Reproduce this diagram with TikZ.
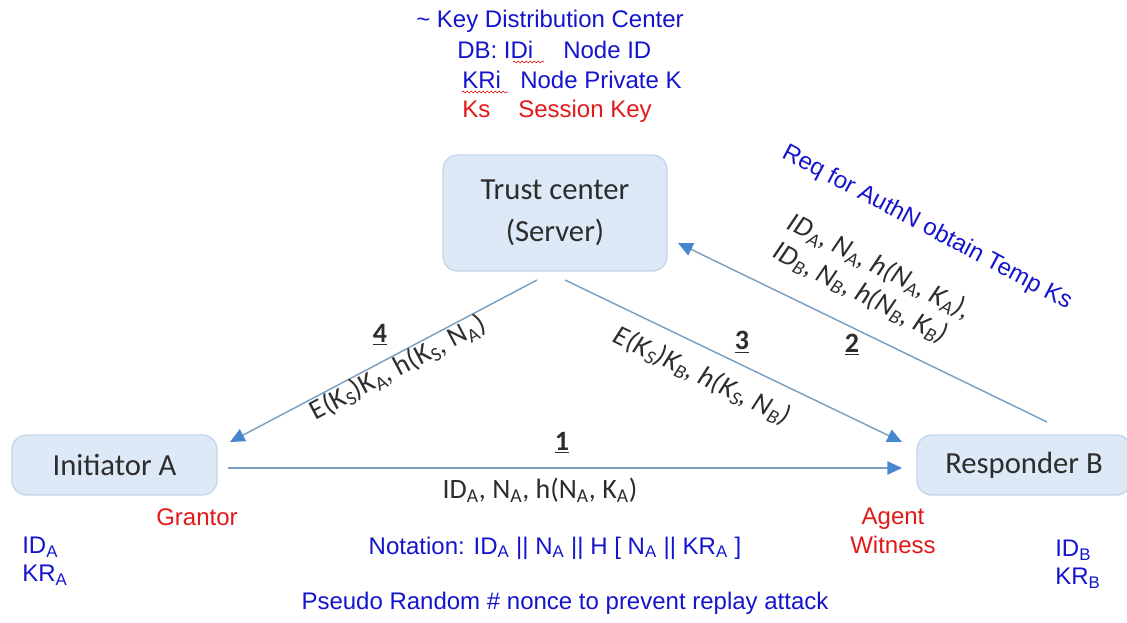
\documentclass[tikz,border=0pt]{standalone}
\usepackage{fontspec}
\setmainfont{Carlito}
\newfontfamily\arialf{Liberation Sans}
\usetikzlibrary{arrows.meta,decorations.pathmorphing}
\definecolor{kblue}{RGB}{20,20,205}
\definecolor{kred}{RGB}{225,25,25}
\definecolor{boxfill}{RGB}{221,233,246}
\definecolor{boxline}{RGB}{196,213,233}
\definecolor{linec}{RGB}{125,160,192}
\definecolor{tipc}{RGB}{70,135,205}
\definecolor{darktext}{RGB}{45,45,45}
\newcommand{\sbs}[1]{\textsubscript{#1}}
\tikzset{
  box/.style={rounded corners=11pt, fill=boxfill, draw=boxline, line width=1pt,
    text=darktext, align=center, font=\fontsize{23}{31.5}\selectfont},
  conn/.style={draw=linec, line width=1.1pt, -{Triangle[length=11pt,width=10pt,color=tipc]}},
  lbl/.style={text=darktext, inner sep=0pt, font=\fontsize{21}{23}\selectfont},
  bt/.style={text=kblue, inner sep=0pt, font=\arialf\fontsize{18}{21}\selectfont},
  rt/.style={text=kred, inner sep=0pt, font=\arialf\fontsize{18}{21.5}\selectfont},
  squig/.style={draw=kred, line width=0.5pt, decorate, decoration={snake, amplitude=0.7pt, segment length=3pt}}
}
\begin{document}
\begin{tikzpicture}[x=0.75pt,y=-0.75pt]
\useasboundingbox (0,0) rectangle (1127,622);

% boxes
\node[box, minimum width=168pt, minimum height=87pt] (tc) at (555,213) {Trust center\\(Server)};
\node[box, minimum width=153.75pt, minimum height=45pt] (ia) at (114.5,465) {Initiator A};
\node[box, minimum width=160.5pt, minimum height=45pt] (rb) at (1024,465) {Responder B};

% connector ends
\coordinate (s1) at (228,468); \coordinate (e1) at (902,468);
\coordinate (s4) at (537,280); \coordinate (e4) at (230,442);
\coordinate (s3) at (565,280); \coordinate (e3) at (902,442);
\coordinate (s2) at (1047,422); \coordinate (e2) at (678,243);

\draw[conn] (s1) -- (e1);
\draw[conn] (s4) -- (e4);
\draw[conn] (s3) -- (e3);
\draw[conn] (s2) -- (e2);

% step numbers
\node[lbl] (n1) at (562,443) {\underline{\textbf{1}}};
\node[lbl] (n4) at (380,335) {\underline{\textbf{4}}};
\node[lbl] (n3) at (742,342) {\underline{\textbf{3}}};
\node[lbl] (n2) at (852,345) {\underline{\textbf{2}}};

% message labels
\node[lbl] (m1) at (540,490) {ID\sbs{A}, N\sbs{A}, h(N\sbs{A}, K\sbs{A})};
\node[lbl, rotate=27.8] (m4) at (398,368) {E(K\sbs{S})K\sbs{A}, h(K\sbs{S}, N\sbs{A})};
\node[lbl, rotate=-25.7, font=\fontsize{21}{23}\selectfont\itshape] (m3) at (702,376) {E(K\sbs{S})K\sbs{B}, h(K\sbs{S}, N\sbs{B})};
\node[lbl, rotate=-27, align=left, font=\fontsize{21}{24}\selectfont\itshape] (m2) at (872,281)
  {ID\sbs{A}, N\sbs{A}, h(N\sbs{A}, K\sbs{A}),\\ID\sbs{B}, N\sbs{B}, h(N\sbs{B}, K\sbs{B})};
\node[bt, rotate=-28] (req) at (927,228) {Req for AuthN obtain Temp Ks};

% key distribution center notes
\node[bt] (kdc) at (550,21) {\textasciitilde{} Key Distribution Center};
\node[bt, anchor=base west] (db) at (457,58) {DB: IDi};
\node[bt, anchor=base west] (nid) at (563,58) {Node ID};
\node[bt, anchor=base west] (kri) at (462,88) {KRi};
\node[bt, anchor=base west] (npk) at (520,88) {Node Private K};
\node[rt, anchor=base west] (ks) at (462,117) {Ks};
\node[rt, anchor=base west] (sk) at (518,117) {Session Key};
\draw[squig] (513,62) -- (544,62);
\draw[squig] (462,92) -- (508,92);

% roles
\node[rt] (gr) at (197,517) {Grantor};
\node[rt, align=center] (aw) at (893,531) {Agent\\Witness};

% ids
\node[bt, anchor=west, align=left, font=\arialf\fontsize{18}{21}\selectfont] (ida) at (22,561) {ID\sbs{A}\\KR\sbs{A}};
\node[bt, anchor=west, align=left, font=\arialf\fontsize{18}{21}\selectfont] (idb) at (1055,564) {ID\sbs{B}\\KR\sbs{B}};

% notes
\node[bt] (nota) at (555,548) {Notation: ID\sbs{A} || N\sbs{A} || H [ N\sbs{A} || KR\sbs{A} ]};
\node[bt] (prn) at (565,603) {Pseudo Random \# nonce to prevent replay attack};
\end{tikzpicture}
\end{document}
